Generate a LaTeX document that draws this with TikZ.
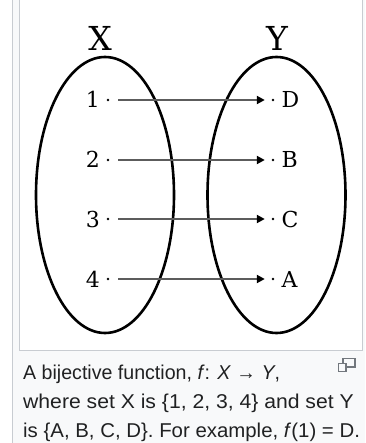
\documentclass[tikz,border=0pt]{standalone}
\usepackage{fontspec}
\setmainfont{Liberation Sans}
\newfontfamily\diagfont{DejaVu Serif}
\usetikzlibrary{arrows.meta,shapes.geometric}
\definecolor{frameline}{HTML}{C8CCD1}
\definecolor{framebg}{HTML}{F8F9FA}
\definecolor{captext}{HTML}{202122}
\definecolor{arrowgray}{HTML}{5C5C5C}
\definecolor{icongray}{HTML}{72777D}
\begin{document}
\begin{tikzpicture}[x=1pt,y=-1pt,
 setshape/.style={ellipse, draw=black, line width=2.6pt, minimum width=138pt, minimum height=276pt, inner sep=0pt},
 setlabel/.style={font=\diagfont\fontsize{33}{33}\selectfont, anchor=base, inner sep=0pt},
 srcel/.style={font=\diagfont\fontsize{22}{22}\selectfont, anchor=base east, inner sep=0pt},
 tgtel/.style={font=\diagfont\fontsize{22}{22}\selectfont, anchor=base west, inner sep=0pt},
 elpt/.style={circle, fill=black, inner sep=0pt, minimum size=2.8pt},
 maparrow/.style={draw=arrowgray, line width=2.2pt, -{Triangle[length=8pt,width=8pt,color=black]}, shorten <=8.6pt, shorten >=6.6pt},
 capline/.style={font=\fontsize{20}{20}\selectfont, text=captext, anchor=base west, inner sep=0pt}
]
\useasboundingbox (0,0) rectangle (365,443);
\clip (0,0) rectangle (365,443);
\fill[white] (0,0) rectangle (365,443);
\fill[framebg] (12,0) rectangle (365,443);
\draw[frameline, line width=1pt] (12.5,0) -- (12.5,443);
\filldraw[fill=white, draw=frameline, line width=1pt] (19.5,-3) rectangle (362.5,350.5);

\node[setshape] (setX) at (105,195) {};
\node[setshape] (setY) at (276.5,195) {};
\node[setlabel] (labX) at (100,51) {X};
\node[setlabel] (labY) at (277,51) {Y};

\foreach \i/\s/\t/\yb in {1/1/D/108,2/2/B/168,3/3/C/227,4/4/A/287} {
  \node[srcel] (s\i) at (100,\yb) {\s};
  \node[elpt] (p\i) at (108,\yb-8) {};
  \node[elpt] (q\i) at (273,\yb-8) {};
  \node[tgtel] (t\i) at (281.5,\yb) {\t};
  \draw[maparrow] (p\i) -- (q\i);
}

\node[capline] (cap1) at (23,379) {\scalebox{0.98}[1]{A bijective function, \textit{f}: \textit{X} → \textit{Y},}};
\node[capline] (cap2) at (23,408) {\scalebox{1.058}[1]{where set X is \{1, 2, 3, 4\} and set Y}};
\node[capline] (cap3) at (23,437) {\scalebox{1.02}[1]{is \{A, B, C, D\}. For example, \textit{f}(1) = D.}};

\draw[icongray, line width=1.2pt] (343,358.5) rectangle (355,367);
\filldraw[fill=framebg, draw=icongray, line width=1.2pt] (338.5,363.5) rectangle (346,371.5);
\end{tikzpicture}
\end{document}
